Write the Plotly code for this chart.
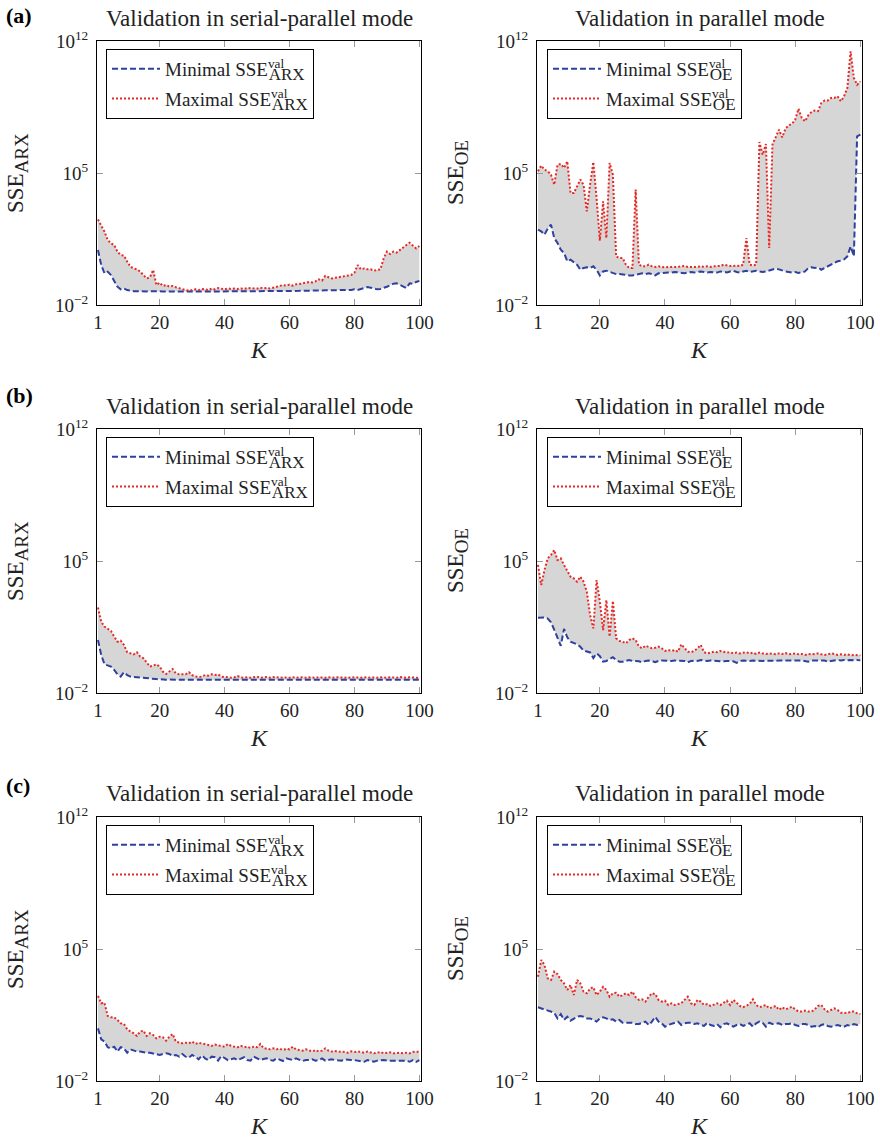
import plotly.graph_objects as go

K = list(range(1, 101))

# values are log10(SSE)
a_arx_min = [0.92, 0.12, -0.32, -0.23, -0.41, -0.76, -1.03, -1.17, -1.12, -1.21,
             -1.25, -1.27, -1.27, -1.28, -1.27, -1.28, -1.27, -1.28, -1.28, -1.27,
             -1.28, -1.28, -1.29, -1.28, -1.28, -1.29, -1.29, -1.28, -1.29, -1.29,
             -1.29, -1.29, -1.28, -1.29, -1.29, -1.28, -1.29, -1.29, -1.28, -1.28,
             -1.28, -1.28, -1.29, -1.28, -1.28, -1.28, -1.28, -1.27, -1.28, -1.28,
             -1.27, -1.28, -1.27, -1.27, -1.28, -1.26, -1.25, -1.26, -1.25, -1.25,
             -1.26, -1.25, -1.25, -1.24, -1.25, -1.24, -1.23, -1.24, -1.23, -1.23,
             -1.22, -1.23, -1.22, -1.22, -1.21, -1.22, -1.20, -1.21, -1.20, -1.17,
             -1.20, -1.15, -1.10, -1.05, -1.08, -1.13, -1.17, -1.15, -1.10, -1.03,
             -0.95, -0.87, -0.85, -0.93, -1.02, -1.10, -0.85, -0.88, -0.78, -0.72]
a_arx_max = [2.54, 2.24, 1.89, 1.45, 1.27, 1.18, 0.83, 0.65, 0.62, 0.30,
             0.03, -0.06, -0.11, -0.23, -0.41, -0.59, -0.53, -0.14, -0.94, -0.82,
             -0.99, -0.94, -1.03, -0.99, -1.06, -1.12, -1.17, -1.21, -1.24, -1.21,
             -1.17, -1.21, -1.15, -1.17, -1.21, -1.13, -1.17, -1.10, -1.13, -1.17,
             -1.12, -1.15, -1.13, -1.15, -1.12, -1.15, -1.10, -1.13, -1.12, -1.13,
             -1.08, -1.12, -1.10, -1.13, -1.08, -1.03, -0.99, -0.94, -0.97, -0.92,
             -0.97, -0.90, -0.89, -0.85, -0.82, -0.78, -0.80, -0.75, -0.64, -0.71,
             -0.46, -0.53, -0.59, -0.56, -0.53, -0.53, -0.46, -0.46, -0.41, -0.29,
             0.12, -0.11, -0.06, -0.11, -0.11, -0.18, -0.14, -0.11, 0.47, 0.83,
             0.70, 0.83, 0.78, 0.92, 1.09, 1.18, 1.30, 1.13, 1.00, 1.13]
a_oe_min = [2.00, 1.91, 1.73, 2.05, 2.26, 1.55, 1.29, 0.93, 0.76, 0.32,
            0.40, 0.28, 0.14, -0.13, -0.04, 0.00, -0.04, 0.05, -0.13, -0.43,
            -0.22, -0.18, -0.25, -0.30, -0.36, -0.36, -0.39, -0.39, -0.43, -0.43,
            -0.39, -0.36, -0.32, -0.36, -0.32, -0.36, -0.43, -0.32, -0.30, -0.30,
            -0.28, -0.28, -0.25, -0.27, -0.28, -0.32, -0.27, -0.25, -0.28, -0.25,
            -0.22, -0.25, -0.28, -0.25, -0.25, -0.28, -0.22, -0.25, -0.27, -0.22,
            -0.18, -0.25, -0.28, -0.22, -0.18, -0.25, -0.22, -0.18, -0.22, -0.25,
            -0.22, -0.18, -0.13, -0.07, -0.11, -0.18, -0.22, -0.25, -0.28, -0.25,
            -0.30, -0.27, -0.22, -0.04, 0.00, -0.04, 0.00, -0.13, -0.04, 0.05,
            0.14, 0.21, 0.32, 0.35, 0.42, 0.58, 1.11, 0.58, 6.94, 7.03]
a_oe_max = [5.09, 5.39, 5.18, 5.09, 4.91, 4.38, 5.44, 5.48, 5.27, 5.62,
            3.94, 3.94, 4.29, 4.65, 4.38, 2.97, 4.38, 5.58, 3.67, 1.41,
            3.50, 1.55, 5.53, 4.91, 0.58, 0.49, 0.49, 0.14, -0.04, -0.04,
            4.12, 0.14, 0.05, 0.05, 0.14, 0.05, 0.02, 0.05, 0.02, 0.00,
            0.02, 0.02, 0.00, 0.02, 0.05, 0.07, 0.02, 0.02, 0.00, 0.02,
            0.05, 0.02, 0.05, 0.02, 0.05, 0.05, 0.07, 0.14, 0.09, 0.07,
            0.07, 0.09, 0.07, 0.14, 1.55, 0.14, 0.10, 0.14, 6.64, 5.97,
            6.54, 1.02, 6.50, 6.94, 7.30, 6.89, 7.35, 7.53, 7.60, 7.83,
            8.41, 7.92, 7.74, 8.06, 8.23, 8.31, 8.28, 8.71, 8.84, 8.84,
            8.98, 8.98, 9.07, 8.80, 9.07, 9.51, 11.45, 10.04, 9.68, 9.86]

b_arx_min = [0.81, 0.02, -0.48, -0.55, -0.60, -0.78, -1.01, -1.13, -0.90, -1.05,
             -1.13, -1.15, -1.17, -1.19, -1.21, -1.22, -1.24, -1.25, -1.26, -1.27,
             -1.29, -1.30, -1.29, -1.30, -1.30, -1.29, -1.30, -1.30, -1.29, -1.30,
             -1.30, -1.29, -1.30, -1.30, -1.29, -1.30, -1.30, -1.29, -1.30, -1.30,
             -1.29, -1.30, -1.30, -1.29, -1.30, -1.30, -1.29, -1.30, -1.30, -1.29,
             -1.30, -1.30, -1.29, -1.30, -1.30, -1.29, -1.30, -1.30, -1.29, -1.30,
             -1.30, -1.29, -1.30, -1.30, -1.29, -1.30, -1.30, -1.29, -1.30, -1.30,
             -1.29, -1.30, -1.30, -1.29, -1.30, -1.30, -1.29, -1.30, -1.30, -1.29,
             -1.30, -1.30, -1.29, -1.30, -1.30, -1.29, -1.30, -1.30, -1.29, -1.30,
             -1.30, -1.29, -1.30, -1.30, -1.29, -1.30, -1.30, -1.29, -1.30, -1.30]
b_arx_max = [2.53, 1.78, 1.52, 1.40, 1.29, 0.99, 0.72, 0.78, 0.55, 0.16,
             0.10, 0.05, 0.16, -0.07, -0.16, -0.37, -0.60, -0.55, -0.48, -0.60,
             -0.87, -0.99, -0.87, -0.73, -0.96, -1.01, -1.01, -1.01, -0.90, -1.05,
             -1.13, -1.15, -1.13, -1.05, -1.08, -1.01, -1.05, -1.01, -1.13, -1.17,
             -1.17, -1.19, -1.17, -1.10, -1.17, -1.19, -1.17, -1.19, -1.17, -1.13,
             -1.19, -1.17, -1.15, -1.19, -1.15, -1.17, -1.19, -1.17, -1.19, -1.19,
             -1.17, -1.19, -1.19, -1.17, -1.19, -1.17, -1.19, -1.19, -1.17, -1.19,
             -1.19, -1.17, -1.19, -1.19, -1.17, -1.19, -1.19, -1.17, -1.19, -1.17,
             -1.19, -1.19, -1.17, -1.19, -1.17, -1.19, -1.19, -1.17, -1.19, -1.19,
             -1.17, -1.19, -1.19, -1.15, -1.19, -1.19, -1.17, -1.19, -1.19, -1.19]
b_oe_min = [1.99, 1.99, 2.00, 1.95, 1.75, 1.35, 0.90, 0.50, 1.40, 0.95,
            0.72, 0.65, 0.58, 0.45, 0.25, 0.20, 0.15, -0.15, 0.10, -0.05,
            -0.34, -0.30, -0.20, -0.10, -0.25, -0.34, -0.34, -0.30, -0.25, -0.30,
            -0.30, -0.32, -0.37, -0.30, -0.28, -0.30, -0.37, -0.30, -0.28, -0.30,
            -0.28, -0.30, -0.28, -0.30, -0.32, -0.30, -0.37, -0.30, -0.28, -0.30,
            -0.25, -0.28, -0.30, -0.28, -0.30, -0.28, -0.30, -0.32, -0.30, -0.30,
            -0.32, -0.40, -0.30, -0.28, -0.30, -0.30, -0.28, -0.30, -0.28, -0.30,
            -0.28, -0.30, -0.28, -0.30, -0.28, -0.30, -0.28, -0.27, -0.28, -0.27,
            -0.28, -0.27, -0.30, -0.34, -0.28, -0.27, -0.28, -0.27, -0.28, -0.34,
            -0.30, -0.27, -0.25, -0.27, -0.25, -0.27, -0.25, -0.27, -0.25, -0.27]
b_oe_max = [4.79, 3.73, 4.52, 5.14, 5.32, 5.58, 5.05, 5.14, 4.79, 4.47,
            4.17, 4.08, 3.90, 4.17, 3.90, 3.37, 2.14, 1.43, 3.99, 2.84,
            1.34, 2.93, 0.99, 2.88, 0.90, 0.76, 0.72, 0.63, 0.81, 0.90,
            0.81, 0.46, 0.37, 0.51, 0.46, 0.37, 0.40, 0.46, 0.37, 0.23,
            0.28, 0.23, 0.28, 0.19, 0.58, 0.37, 0.19, 0.16, 0.23, 0.37,
            0.55, 0.16, 0.10, 0.14, 0.19, 0.16, 0.23, 0.19, 0.14, 0.16,
            0.10, 0.14, 0.10, 0.14, 0.16, 0.10, 0.14, 0.07, 0.14, 0.10,
            0.07, 0.10, 0.07, 0.05, 0.10, 0.07, 0.12, 0.05, 0.07, 0.10,
            0.05, 0.07, 0.02, 0.07, 0.05, 0.07, 0.10, 0.05, 0.02, 0.05,
            0.10, 0.07, 0.02, 0.05, 0.02, 0.05, 0.00, 0.02, 0.00, 0.00]

c_arx_min = [0.79, 0.21, 0.09, -0.21, -0.27, -0.18, -0.44, -0.21, -0.27, -0.50,
             -0.32, -0.39, -0.44, -0.44, -0.48, -0.50, -0.50, -0.53, -0.57, -0.62,
             -0.57, -0.53, -0.57, -0.67, -0.62, -0.71, -0.57, -0.71, -0.76, -0.62,
             -0.71, -0.85, -0.64, -0.80, -0.89, -0.71, -0.74, -0.92, -0.67, -0.80,
             -0.89, -0.85, -0.80, -0.89, -0.80, -0.74, -0.89, -0.92, -0.71, -0.80,
             -0.89, -0.83, -0.80, -0.89, -0.92, -0.80, -0.85, -0.94, -0.80, -0.85,
             -0.89, -0.80, -0.89, -0.94, -0.89, -0.89, -0.85, -0.92, -0.89, -0.80,
             -0.92, -0.89, -0.85, -0.89, -0.89, -0.92, -0.85, -0.89, -0.89, -0.89,
             -0.92, -0.98, -0.98, -0.89, -0.92, -0.98, -0.92, -0.89, -0.89, -0.92,
             -0.92, -0.92, -0.92, -0.89, -0.92, -0.92, -0.98, -0.89, -0.98, -0.89]
c_arx_max = [2.51, 2.12, 2.15, 1.45, 1.38, 1.38, 1.24, 1.06, 1.02, 0.74,
             0.62, 0.53, 0.39, 0.62, 0.67, 0.39, 0.53, 0.44, 0.26, 0.35,
             0.32, 0.14, 0.35, 0.49, 0.09, 0.03, 0.00, 0.03, 0.00, 0.09,
             -0.04, 0.03, 0.00, -0.04, -0.09, -0.14, -0.07, -0.11, -0.14, -0.18,
             -0.04, -0.14, -0.18, -0.21, -0.14, -0.21, -0.18, -0.25, -0.18, -0.21,
             -0.04, -0.25, -0.29, -0.32, -0.27, -0.32, -0.29, -0.36, -0.29, -0.32,
             -0.18, -0.32, -0.36, -0.39, -0.32, -0.39, -0.43, -0.36, -0.43, -0.39,
             -0.27, -0.39, -0.44, -0.41, -0.46, -0.43, -0.46, -0.50, -0.43, -0.46,
             -0.43, -0.46, -0.50, -0.44, -0.48, -0.53, -0.50, -0.46, -0.53, -0.50,
             -0.48, -0.53, -0.51, -0.50, -0.53, -0.50, -0.53, -0.46, -0.44, -0.46]
c_oe_min = [1.91, 1.85, 1.80, 1.77, 1.68, 1.62, 1.32, 1.55, 1.24, 1.41,
            1.20, 1.32, 1.41, 1.45, 1.41, 1.32, 1.32, 1.24, 1.15, 1.32,
            1.38, 1.32, 1.24, 1.27, 1.15, 1.24, 1.09, 1.09, 1.09, 1.09,
            1.02, 1.02, 1.09, 1.15, 0.97, 1.15, 1.41, 1.15, 1.06, 0.88,
            0.97, 1.02, 1.09, 1.15, 0.97, 1.06, 1.09, 1.09, 1.02, 1.06,
            0.97, 0.92, 1.09, 0.97, 0.92, 1.02, 0.85, 1.02, 1.06, 0.97,
            0.88, 0.97, 1.02, 0.92, 0.97, 1.06, 0.88, 1.06, 1.15, 1.09,
            0.88, 1.09, 1.02, 1.02, 1.06, 0.97, 1.02, 1.02, 1.06, 0.97,
            0.92, 1.02, 1.02, 0.97, 0.88, 0.92, 0.85, 0.97, 1.02, 0.92,
            0.88, 0.92, 0.97, 0.92, 0.88, 0.97, 0.92, 1.02, 0.97, 1.02]
c_oe_max = [3.53, 4.42, 4.15, 3.44, 3.36, 3.80, 3.67, 3.36, 3.18, 2.83,
            3.09, 2.56, 3.36, 3.18, 2.74, 2.65, 2.91, 2.97, 2.56, 2.74,
            3.00, 2.83, 2.47, 2.65, 2.68, 2.47, 2.56, 2.65, 2.56, 2.74,
            2.44, 2.30, 2.33, 2.21, 2.47, 2.65, 2.61, 2.30, 2.21, 2.26,
            2.03, 2.12, 2.03, 2.08, 2.12, 2.30, 2.47, 2.12, 2.03, 2.30,
            2.21, 2.03, 2.08, 1.98, 2.03, 2.12, 2.03, 2.15, 2.26, 2.03,
            2.30, 2.15, 1.98, 1.91, 1.98, 2.08, 2.33, 2.03, 1.91, 1.98,
            2.03, 1.85, 1.91, 1.98, 1.77, 1.91, 1.80, 1.85, 1.94, 1.80,
            1.68, 1.68, 1.73, 1.68, 1.68, 1.80, 1.98, 2.03, 1.80, 1.68,
            1.77, 1.85, 1.77, 1.62, 1.62, 1.59, 1.68, 1.68, 1.59, 1.55]

x_ticks = [1, 20, 40, 60, 80, 100]
y_ticks = [1e-2, 1e5, 1e12]
y_ticktext = ["10<sup>\u22122</sup>", "10<sup>5</sup>", "10<sup>12</sup>"]
titles = ["Validation in serial-parallel mode", "Validation in parallel mode"]
panel_labels = ["(a)", "(b)", "(c)"]

W, H = 880, 1140
SERIF = "Liberation Serif"
BLUE = "rgb(46,64,160)"
RED = "rgb(232,40,36)"
GRAY = "rgb(214,214,214)"
TXT = "#222"

def px_x(p):
    return p / W

def px_y(p):
    return 1 - p / H

col_dom = [[px_x(97), px_x(421)], [px_x(537), px_x(862)]]
row_top = [41, 429, 817]
row_bot = [305, 693, 1081]

def pow10(v):
    return [10 ** e for e in v]

def lab(prefix, sub):
    return (prefix + " SSE<sup>va<span style='letter-spacing:-15.5px'>l</span></sup>"
            "<sub><span style='font-size:17px'>" + sub + "</span></sub>")

panels = [
    (0, 0, a_arx_min, a_arx_max, "ARX"),
    (0, 1, a_oe_min, a_oe_max, "OE"),
    (1, 0, b_arx_min, b_arx_max, "ARX"),
    (1, 1, b_oe_min, b_oe_max, "OE"),
    (2, 0, c_arx_min, c_arx_max, "ARX"),
    (2, 1, c_oe_min, c_oe_max, "OE"),
]

fig = go.Figure()
layout = dict(width=W, height=H, margin=dict(l=0, r=0, t=0, b=0, autoexpand=False),
              paper_bgcolor="white", plot_bgcolor="white", showlegend=True)
annotations = []

for i, (r, c, mn, mx, sub) in enumerate(panels):
    n = i + 1
    xa = "x" if n == 1 else f"x{n}"
    ya = "y" if n == 1 else f"y{n}"
    lg = "legend" if n == 1 else f"legend{n}"
    ymin = pow10(mn)
    ymax = pow10(mx)
    fig.add_trace(go.Scatter(x=K, y=ymin, mode="lines", line=dict(width=0, color=GRAY),
                             showlegend=False, hoverinfo="skip", xaxis=xa, yaxis=ya))
    fig.add_trace(go.Scatter(x=K, y=ymax, mode="lines", line=dict(width=0, color=GRAY),
                             fill="tonexty", fillcolor=GRAY,
                             showlegend=False, hoverinfo="skip", xaxis=xa, yaxis=ya))
    fig.add_trace(go.Scatter(x=K, y=ymin, mode="lines", name=lab("Minimal", sub),
                             line=dict(color=BLUE, width=2, dash="6px,3px"),
                             legend=lg, legendgroup=f"g{n}a", xaxis=xa, yaxis=ya))
    fig.add_trace(go.Scatter(x=K, y=ymax, mode="lines", name=lab("Maximal", sub),
                             line=dict(color=RED, width=2, dash="2px,2px"),
                             legend=lg, legendgroup=f"g{n}b", xaxis=xa, yaxis=ya))

    xd = col_dom[c]
    yd = [px_y(row_bot[r]), px_y(row_top[r])]
    axis_common = dict(showline=True, linecolor="black", linewidth=1, mirror="ticks",
                       ticks="inside", ticklen=6, tickcolor="#9a9a9a", tickwidth=1,
                       showgrid=False, zeroline=False, automargin=False,
                       tickfont=dict(family=SERIF, size=19, color=TXT))
    layout["xaxis" if n == 1 else f"xaxis{n}"] = dict(
        domain=xd, anchor=ya, range=[0.7, 100.5], tickvals=x_ticks,
        ticktext=[str(t) for t in x_ticks], **axis_common)
    layout["yaxis" if n == 1 else f"yaxis{n}"] = dict(
        domain=yd, anchor=xa, type="log", range=[-2, 12], tickvals=y_ticks,
        ticktext=y_ticktext, ticklabelstandoff=4, **axis_common)

    lx = 106 if c == 0 else 547
    ly = row_top[r] + 8
    layout[lg] = dict(x=px_x(lx), y=px_y(ly), xanchor="left", yanchor="top",
                      bgcolor="white", bordercolor="black", borderwidth=1,
                      font=dict(family=SERIF, size=19, color=TXT),
                      itemwidth=48, tracegroupgap=2, traceorder="grouped")

    xc = (xd[0] + xd[1]) / 2
    annotations.append(dict(text=titles[c], x=xc, y=px_y(row_top[r] - 23), xref="paper",
                            yref="paper", showarrow=False, xanchor="center", yanchor="middle",
                            font=dict(family=SERIF, size=23, color=TXT)))
    annotations.append(dict(text="<i>K</i>", x=xc, y=px_y(row_bot[r] + 45), xref="paper",
                            yref="paper", showarrow=False, xanchor="center", yanchor="middle",
                            font=dict(family=SERIF, size=24, color=TXT)))
    ytx = 17 if c == 0 else 457
    annotations.append(dict(text="SSE<sub><span style='font-size:19px'>" + sub + "</span></sub>",
                            x=px_x(ytx), y=px_y((row_top[r] + row_bot[r]) / 2),
                            xref="paper", yref="paper", showarrow=False, textangle=-90,
                            xanchor="center", yanchor="middle",
                            font=dict(family=SERIF, size=23, color=TXT)))

for r, (txt, py) in enumerate(zip(panel_labels, [15, 396, 785])):
    annotations.append(dict(text=f"<b>{txt}</b>", x=px_x(4), y=px_y(py), xref="paper",
                            yref="paper", showarrow=False, xanchor="left", yanchor="middle",
                            font=dict(family=SERIF, size=22, color="black")))

layout["annotations"] = annotations
fig.update_layout(**layout)
fig.write_html("out.html", config={"responsive": False, "displayModeBar": False},
               post_script="document.body.style.margin='0';document.body.style.overflow='hidden';")
